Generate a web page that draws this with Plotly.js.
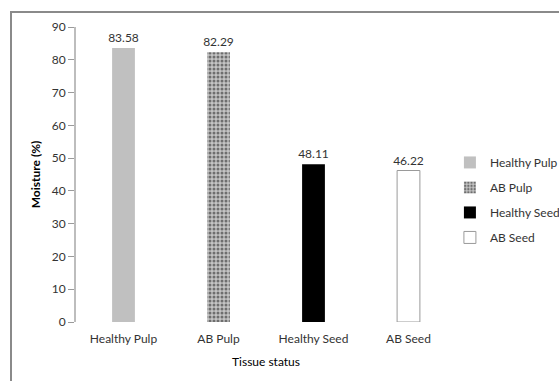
<!DOCTYPE html>
<html><head><meta charset="utf-8">
<script src="https://cdn.plot.ly/plotly-3.0.1.min.js"></script>
<style>
html,body{margin:0;padding:0;background:#fff;}
#wrap{position:relative;width:559px;height:381px;overflow:hidden;}
#frame{position:absolute;left:10px;top:11px;width:600px;height:400px;border-left:2px solid #8a8a8a;border-top:2px solid #8a8a8a;pointer-events:none;}
#chart{position:absolute;left:0;top:0;width:559px;height:381px;}
</style></head>
<body><div id="wrap"><div id="chart"></div><div id="frame"></div></div>
<script>
const categories = ["Healthy Pulp", "AB Pulp", "Healthy Seed", "AB Seed"];
const moisture = [83.58, 82.29, 48.11, 46.22];
const seriesNames = ["Healthy Pulp", "AB Pulp", "Healthy Seed", "AB Seed"];
const yTicks = [0, 10, 20, 30, 40, 50, 60, 70, 80, 90];

const styles = [
  {color: '#c0c0c0', line: {width: 0}},
  {color: '#a8a8a8', line: {width: 0}, pattern: {shape: '.', fgcolor: '#6e6e6e', bgcolor: '#c4c4c4', size: 4, solidity: 0.45}},
  {color: '#000000', line: {width: 0}},
  {color: '#ffffff', line: {width: 1, color: '#9a9a9a'}}
];

const traces = categories.map((c, i) => ({
  type: 'bar',
  x: [c],
  y: [moisture[i]],
  name: seriesNames[i],
  legendgroup: 'g' + i,
  width: 0.24,
  marker: styles[i],
  text: [moisture[i].toFixed(2)],
  textposition: 'outside',
  constraintext: 'none',
  textfont: {size: 12, color: '#333', family: 'Lato, sans-serif'},
  cliponaxis: false,
  hoverinfo: 'skip'
}));

const layout = {
  width: 559, height: 381,
  margin: {l: 76, r: 103, t: 27, b: 59, autoexpand: false},
  paper_bgcolor: 'rgba(0,0,0,0)', plot_bgcolor: 'rgba(0,0,0,0)',
  font: {family: 'Lato, sans-serif', size: 12, color: '#333'},
  barmode: 'overlay',
  showlegend: true,
  legend: {x: 0.984, y: 0.59, xanchor: 'left', yanchor: 'top', font: {size: 12, color: '#333'},
           tracegroupgap: 6, itemwidth: 30, bgcolor: 'rgba(0,0,0,0)'},
  xaxis: {
    type: 'category', categoryorder: 'array', categoryarray: categories,
    showline: false, ticks: '', showgrid: false, zeroline: false,
    ticklabelstandoff: 8, automargin: false,
    tickfont: {size: 12, color: '#333'},
    title: {text: 'Tissue status', font: {size: 12, color: '#000'}, standoff: 12}
  },
  yaxis: {
    range: [0, 90], tickvals: yTicks, showgrid: false, zeroline: false,
    showline: true, linecolor: '#bdbdbd', linewidth: 2, automargin: false,
    ticks: 'outside', ticklen: 6, tickcolor: '#9a9a9a', tickwidth: 1,
    tickfont: {size: 12, color: '#333'},
    title: {text: '<b>Moisture (%)</b>', font: {size: 12, color: '#000'}, standoff: 8}
  }
};

Plotly.newPlot('chart', traces, layout, {displayModeBar: false, staticPlot: true});
</script></body></html>
